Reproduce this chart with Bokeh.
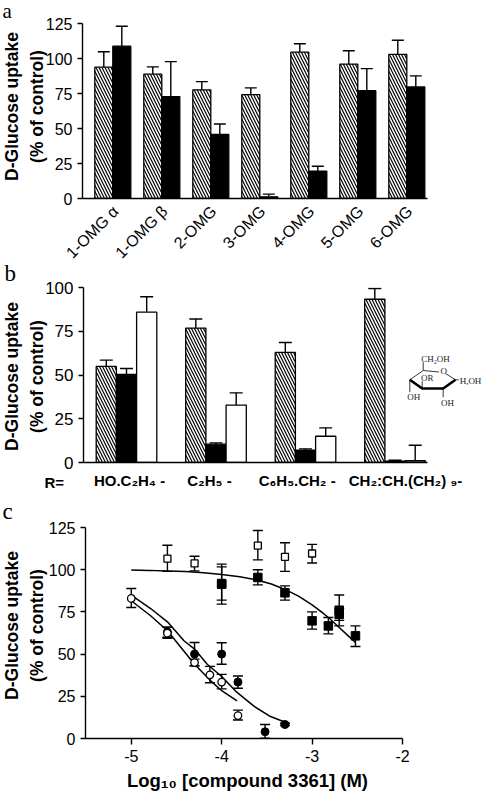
from math import pi
from bokeh.plotting import figure
from bokeh.core.properties import value
from bokeh.models import Range1d, FixedTicker, Whisker, TeeHead, ColumnDataSource
from bokeh.embed import file_html
from bokeh.resources import INLINE

# ---------- panel a ----------
a_labels = ["1-OMG α", "1-OMG β", "2-OMG", "3-OMG", "4-OMG", "5-OMG", "6-OMG"]
a_label_pos = [0.06, 1.06, 2.06, 3.06, 4.06, 5.06, 6.06]
a_hatched = [93.8, 88.8, 77.6, 74.2, 104.5, 96.0, 103.0]
a_hatched_top = [104.8, 94.0, 83.5, 79.0, 110.5, 105.5, 113.0]
a_black = [108.8, 72.8, 45.8, 1.2, 19.6, 77.0, 79.7]
a_black_top = [123.0, 97.8, 53.2, 3.1, 23.0, 92.8, 87.6]

# ---------- panel b ----------
b_labels = ["HO.C₂H₄ -", "C₂H₅ -", "C₆H₅.CH₂ -", "CH₂:CH.(CH₂) ₉-"]
b_label_pos = [0.034, 0.927, 1.907, 3.117]
b_hatched = [54.9, 76.8, 62.9, 93.3]
b_hatched_top = [58.5, 82.0, 68.6, 99.4]
b_black = [50.3, 10.5, 7.0, 0.8]
b_black_top = [53.7, 11.2, 7.8, 1.3]
b_white = [85.9, 32.8, 15.0, 1.0]
b_white_top = [94.7, 39.8, 19.8, 9.9]

# ---------- panel c ----------
c_ticks = [-5, -4, -3, -2]
c_tick_labels = ["-5", "-4", "-3", "-2"]
open_sq_x = [-4.6, -4.3, -3.6, -3.3, -3.0]
open_sq_y = [106.6, 103.7, 114.3, 107.6, 109.6]
open_sq_hi = [114.5, 108.0, 123.2, 116.0, 115.0]
open_sq_lo = [99.0, 99.3, 105.8, 99.0, 104.0]

fill_sq_x = [-4.0, -4.0, -3.6, -3.3, -3.0, -2.82, -2.7, -2.7, -2.52]
fill_sq_y = [91.4, 91.8, 95.4, 86.3, 69.7, 66.7, 76.0, 73.5, 60.8]
fill_sq_hi = [103.3, 101.7, 100.0, 90.4, 75.0, 71.7, 85.0, 77.0, 66.7]
fill_sq_lo = [79.6, 82.0, 91.0, 82.0, 64.8, 62.0, 66.7, 70.0, 54.5]

fill_ci_x = [-4.6, -4.3, -4.0, -3.82, -3.52, -3.3]
fill_ci_y = [63.0, 50.0, 50.0, 33.4, 4.0, 8.3]
fill_ci_hi = [66.0, 56.9, 56.7, 37.0, 8.3, 9.0]
fill_ci_lo = [60.0, 43.0, 44.0, 29.8, 0.2, 7.6]

open_ci_x = [-5.0, -4.6, -4.3, -4.13, -4.0, -3.82]
open_ci_y = [83.0, 62.4, 45.0, 37.7, 33.4, 13.6]
open_ci_hi = [88.9, 66.0, 47.0, 42.7, 38.0, 16.8]
open_ci_lo = [77.6, 59.4, 43.0, 33.0, 29.4, 11.0]

curve_sq_x = [-5, -4.8, -4.6, -4.4, -4.2, -4, -3.8, -3.6, -3.45, -3.3, -3.15, -3, -2.9, -2.8, -2.7, -2.6, -2.52]
curve_sq_y = [99.8, 99.6, 99.3, 98.9, 98.2, 97.2, 95.8, 93.8, 91.5, 88.3, 84.3, 79.2, 75.2, 70.8, 65.8, 60.8, 56.9]
curve_ci_x = [-5, -4.786, -4.6, -4.417, -4.3, -4.16, -4, -3.83, -3.64, -3.46, -3.31]
curve_ci_y = [85.0, 77.0, 69.1, 57.9, 53.0, 44.0, 36.7, 27.3, 19.0, 13.0, 9.9]
curve_oc_x = [-5, -4.786, -4.6, -4.45, -4.3, -4.13, -4, -3.83]
curve_oc_y = [81.6, 72.7, 63.8, 53.9, 44.0, 34.6, 28.3, 22.3]

# ---------- sugar ring of panel b and free texts, in page px ----------
ring_thin = [[(409.3, 379.3), (422.7, 370), (438.5, 371.5)], [(445, 373), (455, 379.3)],
             [(422.7, 370), (422.7, 361.7)], [(409.3, 379.3), (409.3, 391.7)],
             [(421.7, 388), (421.7, 380.7)], [(442.7, 388), (442.7, 396.7)], [(455, 379.3), (458.3, 379.3)]]
ring_thick = [[(409.3, 379.3), (421.7, 388), (442.7, 388), (455, 379.3)]]
ring_text = [("CH₂OH", 435, 358.3), ("O", 443.3, 370), ("OR", 426.7, 377.3), ("H,OH", 470, 380),
             ("OH", 413.3, 396), ("OH", 447, 402.3)]
panel_letters = [("a", 2, 10.5, "21px"), ("b", 4, 273, "23px"), ("c", 2, 511, "23px")]
y_title_lines = ["D-Glucose uptake", "(% of control)"]
y_title_centres = [106, 376, 625]
x_title_c = "Log₁₀ [compound 3361] (M)"
r_label = "R="

AX_W = 1.4
SANS = "Liberation Sans"
SERIF = "Liberation Serif"


def base(height, top, bottom, left, right, xr, yr, yticks, tick_size="16px"):
    p = figure(width=484, height=height, min_border_top=top, min_border_bottom=bottom,
               min_border_left=left, min_border_right=right, x_range=Range1d(*xr), y_range=Range1d(*yr),
               output_backend="svg", toolbar_location=None)
    p.outline_line_color = None
    p.grid.visible = False
    p.yaxis.ticker = FixedTicker(ticks=yticks)
    for ax in (p.xaxis[0], p.yaxis[0]):
        ax.axis_line_width = AX_W
        ax.axis_line_color = "black"
        ax.major_tick_line_color = "black"
        ax.major_tick_line_width = AX_W
        ax.major_tick_in = 0
        ax.major_tick_out = 5
        ax.minor_tick_line_color = None
        ax.major_label_text_font = SANS
        ax.major_label_text_font_size = tick_size
        ax.major_label_text_color = "black"
    return p


def up_whisker(p, x, top, base_vals, size):
    src = ColumnDataSource(dict(x=x, lo=base_vals, hi=top))
    w = Whisker(source=src, base="x", lower="lo", upper="hi", dimension="height",
                line_color="black", line_width=1.4,
                upper_head=TeeHead(size=size, line_color="black", line_width=1.4), lower_head=None)
    p.add_layout(w)


def hatch_bars(p, x, top, w):
    p.vbar(x=x, top=top, width=w, bottom=0, fill_color="white", line_color="black", line_width=1.3,
           hatch_pattern="left_diagonal_line", hatch_color="black", hatch_scale=6, hatch_weight=1.2)


# ===== panel a =====
A_TOP, A_H = 23, 175
A_L, A_PERIOD, A_C0 = 82, 49.0, 112.3
A_FIG_H = 290  # runs under panel b's figure; the rotated labels need the room
ax0 = (A_L - A_C0) / A_PERIOD
pa = base(A_FIG_H, A_TOP, A_FIG_H - A_TOP - A_H, A_L, 57, (ax0, ax0 + 345 / A_PERIOD), (0, 125), [0, 25, 50, 75, 100, 125])
idx = list(range(7))
bw = 18 / A_PERIOD
xh = [i - bw / 2 for i in idx]
xb = [i + bw / 2 for i in idx]
up_whisker(pa, xh, a_hatched_top, a_hatched, 12)
up_whisker(pa, xb, a_black_top, a_black, 12)
hatch_bars(pa, xh, a_hatched, bw)
pa.vbar(x=xb, top=a_black, width=bw, bottom=0, fill_color="black", line_color="black", line_width=1.3)
pa.xaxis.ticker = FixedTicker(ticks=a_label_pos)
pa.xaxis.major_label_overrides = dict(zip(a_label_pos, a_labels))
pa.xaxis.major_label_orientation = pi / 4
pa.xaxis.major_tick_line_color = None
pa.xaxis.major_tick_out = 0
pa.xaxis.major_label_standoff = 10

# ===== panel b =====
B_TOP, B_H = 25, 175
B_L, B_PERIOD, B_C0 = 83, 89.5, 126.0
OFF_B = 262
bx0 = (B_L - B_C0) / B_PERIOD
pb = base(240, B_TOP, 240 - B_TOP - B_H, B_L, 57, (bx0, bx0 + 344 / B_PERIOD), (0, 100), [0, 25, 50, 75, 100], "17px")
idx = list(range(4))
bw = 20.2 / B_PERIOD
xh = [i - bw for i in idx]
xb = list(idx)
xw = [i + bw for i in idx]
up_whisker(pb, xh, b_hatched_top, b_hatched, 13)
up_whisker(pb, xb, b_black_top, b_black, 13)
up_whisker(pb, xw, b_white_top, b_white, 13)
hatch_bars(pb, xh, b_hatched, bw)
pb.vbar(x=xb, top=b_black, width=bw, bottom=0, fill_color="black", line_color="black", line_width=1.3)
pb.vbar(x=xw, top=b_white, width=bw, bottom=0, fill_color="white", line_color="black", line_width=1.3)
pb.xaxis.ticker = FixedTicker(ticks=b_label_pos)
pb.xaxis.major_label_overrides = dict(zip(b_label_pos, b_labels))
pb.xaxis.major_tick_line_color = None
pb.xaxis.major_tick_out = 0
pb.xaxis.major_label_text_font_style = "bold"
pb.xaxis.major_label_text_font_size = "15px"
pb.xaxis.major_label_standoff = 9

# ===== panel c =====
C_TOP, C_H = 25, 211
C_L = 85
OFF_C = 502
pc = base(292, C_TOP, 292 - C_TOP - C_H, C_L, 82, (-5.506, -2.0), (0, 125), [0, 25, 50, 75, 100, 125])
pc.xaxis.ticker = FixedTicker(ticks=c_ticks)
pc.xaxis.major_label_overrides = dict(zip(c_ticks, c_tick_labels))
pc.xaxis.major_label_standoff = 5
pc.xaxis.major_tick_out = 6

for cx, cy in ((curve_sq_x, curve_sq_y), (curve_ci_x, curve_ci_y), (curve_oc_x, curve_oc_y)):
    pc.line(cx, cy, line_color="black", line_width=1.5)

for xs, hi, lo in ((open_sq_x, open_sq_hi, open_sq_lo), (fill_sq_x, fill_sq_hi, fill_sq_lo),
                   (fill_ci_x, fill_ci_hi, fill_ci_lo), (open_ci_x, open_ci_hi, open_ci_lo)):
    src = ColumnDataSource(dict(x=xs, lo=lo, hi=hi))
    pc.add_layout(Whisker(source=src, base="x", lower="lo", upper="hi", line_color="black", line_width=1.4,
                          upper_head=TeeHead(size=10, line_color="black", line_width=1.4),
                          lower_head=TeeHead(size=10, line_color="black", line_width=1.4)))

pc.scatter(open_sq_x, open_sq_y, marker="square", size=7, fill_color="white", line_color="black", line_width=1.3)
pc.scatter(fill_sq_x, fill_sq_y, marker="square", size=8.5, fill_color="black", line_color="black")
pc.scatter(fill_ci_x, fill_ci_y, marker="circle", size=8, fill_color="black", line_color="black")
pc.scatter(open_ci_x, open_ci_y, marker="circle", size=7.5, fill_color="white", line_color="black", line_width=1.3)

# ===== transparent layer for what lies outside the panels' frames =====
top = figure(width=484, height=794, x_range=Range1d(0, 484), y_range=Range1d(794, 0),
             min_border=0, output_backend="svg", toolbar_location=None,
             x_axis_location=None, y_axis_location=None,
             background_fill_color=None, border_fill_color=None)
top.outline_line_color = None
top.grid.visible = False


def note(text, x, y, font=SANS, size="15px", style="normal", align="left", baseline="middle",
         color="black", angle=0):
    top.text(x=[x], y=[y], text=[text], text_font=value(font), text_font_size=value(size),
             text_font_style=style, text_color=color, text_align=align, text_baseline=baseline, angle=angle)


for seg in ring_thin:
    top.line([q[0] for q in seg], [q[1] for q in seg], line_color="#222222", line_width=0.9)
for seg in ring_thick:
    top.line([q[0] for q in seg], [q[1] for q in seg], line_color="black", line_width=2.6)
for t, px, py in ring_text:
    note(t, px, py, font=SERIF, size="9px", align="center", color="#222222")
for t, px, py, fs in panel_letters:
    note(t, px, py, font=SERIF, size=fs)
for cy in y_title_centres:
    note(y_title_lines[0], 11.5, cy, style="bold", size="17.5px", align="center", angle=pi / 2)
    note(y_title_lines[1], 36, cy, style="bold", size="17.5px", align="center", angle=pi / 2)
note(r_label, 44, 481.7, style="bold")
note(x_title_c, 247, 780, style="bold", size="18.5px", align="center")

for fig, t in ((pa, 0), (pb, OFF_B), (pc, OFF_C), (top, 0)):
    fig.styles = {"position": "absolute", "left": "0px", "top": f"{t}px"}

open("out.html", "w").write(file_html([pa, pb, pc, top], INLINE))
